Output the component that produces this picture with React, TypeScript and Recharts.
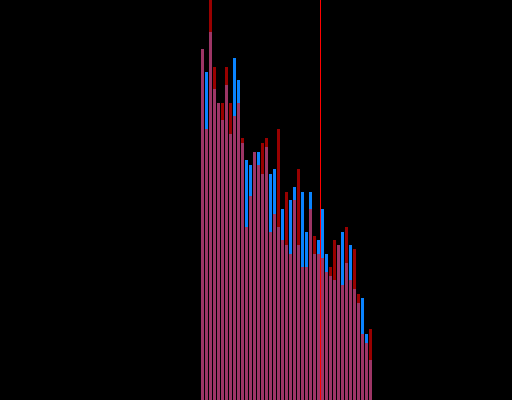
import React from "react";
import { BarChart, Bar, XAxis, YAxis, ReferenceLine } from "recharts";

const categories: string[] = Array.from({ length: 43 }, (_, i) => `C${i + 1}`);

const blueValues: number[] = [
  87.75, 82, 92, 77.75, 74.25, 70, 78.75, 66.5, 85.5, 80,
  64.25, 60, 58.75, 62, 62, 56.5, 63.25, 56.5, 57.75, 43.25,
  47.75, 38.75, 50, 53.25, 38.75, 52, 42, 52, 36.5, 40,
  47.75, 36.5, 31, 30, 38.75, 42, 34.25, 38.75, 27.75, 24.25,
  25.5, 16.5, 10,
];

const redValues: number[] = [
  87.75, 67.75, 100, 83.25, 74.25, 74.25, 83.25, 74.25, 71, 74.25,
  65.5, 43.25, 51, 62, 58.75, 64.25, 65.5, 42, 46.5, 67.75,
  40, 52, 36.5, 50, 57.75, 33.25, 33.25, 47.75, 41, 36.5,
  35.5, 32, 33.25, 40, 38.75, 28.75, 43.25, 30, 37.75, 26.5,
  16.5, 14.25, 17.75,
];

const markerCategory = "C30";

const data = categories.map((name, i) => ({
  name,
  blue: blueValues[i],
  red: redValues[i],
}));

const CrispLine = (props: any) => {
  const { x1, y1, x2, y2, stroke, strokeWidth } = props;
  return (
    <line
      x1={x1 + 0.5}
      x2={x2 + 0.5}
      y1={y1}
      y2={y2}
      stroke={stroke}
      strokeWidth={strokeWidth}
    />
  );
};

export default function App() {
  return (
    <div
      style={{
        position: "absolute",
        left: 0,
        top: 0,
        width: 512,
        height: 400,
        background: "#000000",
        overflow: "hidden",
      }}
    >
      <BarChart
        width={512}
        height={400}
        data={data}
        margin={{ top: 0, right: 140, bottom: 0, left: 200 }}
      >
        <XAxis xAxisId="a" dataKey="name" hide />
        <XAxis xAxisId="b" dataKey="name" hide />
        <YAxis domain={[0, 100]} allowDataOverflow hide />
        <Bar
          xAxisId="a"
          dataKey="blue"
          fill="#0a84ff"
          barSize={3}
          isAnimationActive={false}
        />
        <Bar
          xAxisId="b"
          dataKey="red"
          fill="#ff0000"
          fillOpacity={0.6}
          barSize={3}
          isAnimationActive={false}
        />
        <ReferenceLine
          xAxisId="a"
          x={markerCategory}
          position="end"
          stroke="#ff0000"
          strokeWidth={1}
          shape={CrispLine}
        />
      </BarChart>
    </div>
  );
}
